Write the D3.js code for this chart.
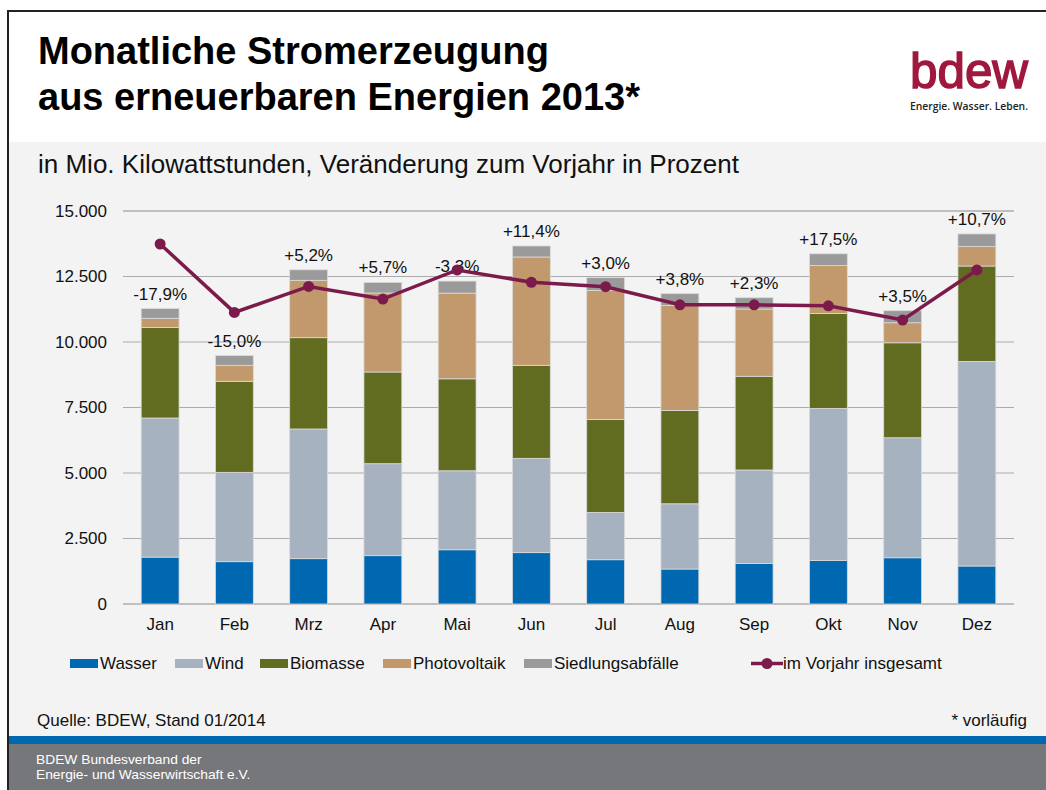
<!DOCTYPE html>
<html>
<head>
<meta charset="utf-8">
<script src="https://cdn.jsdelivr.net/npm/d3@7"></script>
<style>
  body { margin: 0; background: #fff; }
  svg { display: block; font-family: "Liberation Sans", Arial, sans-serif; }
</style>
</head>
<body>
<div id="chart-area"></div>
<script>
const months = ["Jan", "Feb", "Mrz", "Apr", "Mai", "Jun", "Jul", "Aug", "Sep", "Okt", "Nov", "Dez"];
const wasser = [1790, 1615, 1730, 1845, 2070, 1960, 1690, 1335, 1550, 1665, 1765, 1450];
const wind = [5310, 3410, 4950, 3510, 3015, 3600, 1805, 2490, 3565, 5800, 4580, 7810];
const biomasse = [3450, 3475, 3485, 3500, 3510, 3550, 3550, 3560, 3575, 3625, 3625, 3640];
const photovoltaik = [355, 610, 2190, 3015, 3270, 4135, 4925, 4010, 2570, 1830, 765, 740];
const siedlungsabfaelle = [370, 370, 400, 405, 460, 420, 485, 450, 430, 445, 460, 485];
const vorjahr = [13740, 11130, 12120, 11640, 12750, 12280, 12110, 11420, 11420, 11380, 10840, 12750];
const changes = ["-17,9%", "-15,0%", "+5,2%", "+5,7%", "-3,3%", "+11,4%", "+3,0%", "+3,8%", "+2,3%", "+17,5%", "+3,5%", "+10,7%"];
const yTicks = [0, 2500, 5000, 7500, 10000, 12500, 15000];
const seriesNames = ["Wasser", "Wind", "Biomasse", "Photovoltaik", "Siedlungsabfälle"];
const lineName = "im Vorjahr insgesamt";

const colors = ["#0067b1", "#a7b2c0", "#626c21", "#c2996c", "#9a9a9a"];
const lineColor = "#7c1b4b";

const w = 1046;
const h = 790;

const svg = d3.select("#chart-area")
    .append("svg")
    .attr("width", w)
    .attr("height", h);

// background panels
svg.append("rect").attr("x", 8).attr("y", 11).attr("width", w - 8).attr("height", 131).attr("fill", "#fff");
svg.append("rect").attr("x", 8).attr("y", 142).attr("width", w - 8).attr("height", 594).attr("fill", "#f3f3f3");
svg.append("rect").attr("x", 8).attr("y", 736).attr("width", w - 8).attr("height", 8).attr("fill", "#0067b1");
svg.append("rect").attr("x", 8).attr("y", 744).attr("width", w - 8).attr("height", 46).attr("fill", "#76777a");
svg.append("path")
    .attr("d", "M8,790 V11 H" + w)
    .attr("fill", "none")
    .attr("stroke", "#222")
    .attr("stroke-width", 2);

// title
const title = svg.append("text")
    .attr("font-size", 38)
    .attr("font-weight", "bold")
    .attr("fill", "#000");
title.append("tspan").attr("x", 38).attr("y", 64).text("Monatliche Stromerzeugung");
title.append("tspan").attr("x", 38).attr("y", 110).text("aus erneuerbaren Energien 2013*");

svg.append("text")
    .attr("x", 38)
    .attr("y", 173)
    .attr("font-size", 26)
    .attr("fill", "#111")
    .text("in Mio. Kilowattstunden, Veränderung zum Vorjahr in Prozent");

// logo
svg.append("text")
    .attr("x", 910)
    .attr("y", 88)
    .attr("font-size", 50)
    .attr("fill", "#a0183d")
    .attr("stroke", "#a0183d")
    .attr("stroke-width", 1.5)
    .attr("textLength", 118)
    .attr("lengthAdjust", "spacingAndGlyphs")
    .text("bdew");
svg.append("text")
    .attr("x", 910)
    .attr("y", 110)
    .attr("font-family", "'Open Sans', sans-serif")
    .attr("font-weight", 600)
    .attr("font-size", 10.5)
    .attr("fill", "#222")
    .attr("textLength", 118)
    .attr("lengthAdjust", "spacingAndGlyphs")
    .text("Energie. Wasser. Leben.");

// scales
const xScale = d3.scaleBand()
    .domain(months)
    .range([123, 1014])
    .paddingInner(0.49)
    .paddingOuter(0.245);

const yScale = d3.scaleLinear()
    .domain([0, 15000])
    .range([604, 211]);

const de = d3.formatLocale({ decimal: ",", thousands: ".", grouping: [3], currency: ["", " €"] });
const fmt = de.format(",");

// gridlines
svg.append("g")
    .selectAll("line")
    .data(yTicks)
    .enter()
    .append("line")
    .attr("x1", 123)
    .attr("x2", 1014)
    .attr("y1", d => yScale(d))
    .attr("y2", d => yScale(d))
    .attr("stroke", d => (d === 0 || d === 15000) ? "#8c8c8c" : "#ababab")
    .attr("stroke-width", 1.2);

const yAxis = d3.axisLeft(yScale)
    .tickValues(yTicks)
    .tickFormat(fmt)
    .tickSize(0)
    .tickPadding(16);

const yG = svg.append("g")
    .attr("transform", "translate(123,0)")
    .call(yAxis);
yG.select(".domain").remove();
yG.selectAll("text").attr("font-size", 17).attr("fill", "#111").attr("font-family", "'Liberation Sans', Arial, sans-serif");

const xAxis = d3.axisBottom(xScale).tickSize(0).tickPadding(14);
const xG = svg.append("g")
    .attr("transform", "translate(0,604)")
    .call(xAxis);
xG.select(".domain").remove();
xG.selectAll("text").attr("font-size", 17).attr("fill", "#111").attr("font-family", "'Liberation Sans', Arial, sans-serif");

// stacked bars
const table = months.map((m, i) => ({
    month: m,
    Wasser: wasser[i],
    Wind: wind[i],
    Biomasse: biomasse[i],
    Photovoltaik: photovoltaik[i],
    "Siedlungsabfälle": siedlungsabfaelle[i]
}));

const stacked = d3.stack().keys(seriesNames)(table);

svg.append("g")
    .selectAll("g")
    .data(stacked)
    .enter()
    .append("g")
    .attr("fill", (d, i) => colors[i])
    .selectAll("rect")
    .data(d => d)
    .enter()
    .append("rect")
    .attr("x", d => xScale(d.data.month))
    .attr("y", d => yScale(d[1]))
    .attr("width", xScale.bandwidth())
    .attr("height", d => yScale(d[0]) - yScale(d[1]))
    .attr("stroke", "#dadada")
    .attr("stroke-width", 0.8);

// percentage labels
const totals = table.map(d => d3.sum(seriesNames, k => d[k]));
svg.append("g")
    .selectAll("text")
    .data(changes)
    .enter()
    .append("text")
    .attr("x", (d, i) => xScale(months[i]) + xScale.bandwidth() / 2)
    .attr("y", (d, i) => yScale(totals[i]) - 9)
    .attr("text-anchor", "middle")
    .attr("font-size", 17)
    .attr("fill", "#111")
    .text(d => d);

// previous year line
const line = d3.line()
    .x((d, i) => xScale(months[i]) + xScale.bandwidth() / 2)
    .y(d => yScale(d));

svg.append("path")
    .datum(vorjahr)
    .attr("d", line)
    .attr("fill", "none")
    .attr("stroke", lineColor)
    .attr("stroke-width", 3.5);

svg.append("g")
    .selectAll("circle")
    .data(vorjahr)
    .enter()
    .append("circle")
    .attr("cx", (d, i) => xScale(months[i]) + xScale.bandwidth() / 2)
    .attr("cy", d => yScale(d))
    .attr("r", 5.5)
    .attr("fill", lineColor);

// legend
const legendX = [70, 175, 260, 383, 524];
const legend = svg.append("g");
seriesNames.forEach((name, i) => {
    legend.append("rect")
        .attr("x", legendX[i])
        .attr("y", 659)
        .attr("width", 28)
        .attr("height", 9)
        .attr("fill", colors[i]);
    legend.append("text")
        .attr("x", legendX[i] + 30)
        .attr("y", 669)
        .attr("font-size", 17)
        .attr("fill", "#111")
        .text(name);
});
legend.append("line")
    .attr("x1", 751).attr("x2", 783)
    .attr("y1", 663.5).attr("y2", 663.5)
    .attr("stroke", lineColor)
    .attr("stroke-width", 3.5);
legend.append("circle")
    .attr("cx", 767).attr("cy", 663.5).attr("r", 5.5)
    .attr("fill", lineColor);
legend.append("text")
    .attr("x", 783)
    .attr("y", 669)
    .attr("font-size", 17)
    .attr("fill", "#111")
    .text(lineName);

// footer
svg.append("text")
    .attr("x", 37).attr("y", 726)
    .attr("font-size", 17)
    .attr("fill", "#111")
    .text("Quelle: BDEW, Stand 01/2014");
svg.append("text")
    .attr("x", 1027).attr("y", 726)
    .attr("text-anchor", "end")
    .attr("font-size", 17)
    .attr("fill", "#111")
    .text("* vorläufig");

const foot = svg.append("g")
    .attr("transform", "translate(36,0) scale(1.15,1)")
    .attr("font-size", 12)
    .attr("fill", "#fff");
foot.append("text").attr("x", 0).attr("y", 764).text("BDEW Bundesverband der");
foot.append("text").attr("x", 0).attr("y", 779).text("Energie- und Wasserwirtschaft e.V.");
</script>
</body>
</html>
